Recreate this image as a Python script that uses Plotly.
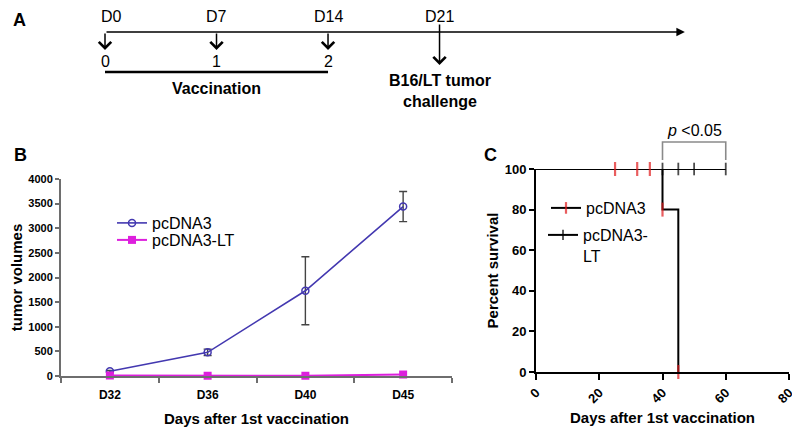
import plotly.graph_objects as go

# ---------------- Panel A : vaccination schedule ----------------
timeline_days = [0, 7, 14, 21]
timeline_labels = ["D0", "D7", "D14", "D21"]
vacc_days = [0, 7, 14]
vacc_numbers = ["0", "1", "2"]
timeline_end_day = 36.4
challenge_day = 21

# ---------------- Panel B : tumor volumes ----------------
b_days = ["D32", "D36", "D40", "D45"]
b_pcdna3 = [95, 480, 1730, 3440]
b_pcdna3_err = [20, 65, 690, 305]
b_lt = [10, 5, 5, 30]
b_yticks = [0, 500, 1000, 1500, 2000, 2500, 3000, 3500, 4000]

# ---------------- Panel C : survival ----------------
c_pc_t = [0, 25, 32, 36, 40, 45]
c_pc_s = [100, 100, 100, 100, 80, 0]
c_pc_censor = [0, 1, 1, 1, 1, 1]
c_lt_t = [0, 40, 45, 50, 60]
c_lt_s = [100, 100, 100, 100, 100]
c_lt_censor = [0, 1, 1, 1, 1]
c_xticks = [0, 20, 40, 60, 80]
c_yticks = [0, 20, 40, 60, 80, 100]
bracket_days = [40, 60]

W, H = 800, 432
OFF = 8  # page body margin in the browser
def fx(px):
    return (px - OFF) / W
def fy(py):
    return 1 - (py - OFF) / H

SANS = "Liberation Sans, Arial, sans-serif"
GRAY = "#6e6e6e"

fig = go.Figure()

# Panel B traces
fig.add_trace(go.Scatter(
    x=b_days, y=b_pcdna3, name="pcDNA3", mode="lines+markers",
    line=dict(color="#4338b0", width=1.6),
    marker=dict(symbol="circle-open", size=7, color="#4338b0", line=dict(width=1.5)),
    error_y=dict(type="data", array=b_pcdna3_err, color="#444444", thickness=1.4, width=4),
    xaxis="x", yaxis="y", legend="legend", cliponaxis=False,
))
fig.add_trace(go.Scatter(
    x=b_days, y=b_lt, name="pcDNA3-LT", mode="lines+markers",
    line=dict(color="#dd1fdd", width=2),
    marker=dict(symbol="square", size=8, color="#dd1fdd"),
    xaxis="x", yaxis="y", legend="legend2", cliponaxis=False,
))

# Panel C traces
fig.add_trace(go.Scatter(
    x=c_lt_t, y=c_lt_s, name="pcDNA3-<br>LT", mode="lines+markers", line_shape="hv",
    line=dict(color="black", width=2),
    marker=dict(symbol="line-ns", size=[9 * c for c in c_lt_censor],
                line=dict(color="black", width=1.8)),
    xaxis="x2", yaxis="y2", legend="legend4", cliponaxis=False,
))
fig.add_trace(go.Scatter(
    x=c_pc_t, y=c_pc_s, name="pcDNA3", mode="lines+markers", line_shape="hv",
    line=dict(color="black", width=2),
    marker=dict(symbol="line-ns", size=[10 * c for c in c_pc_censor],
                line=dict(color="#e0191b", width=2.2)),
    xaxis="x2", yaxis="y2", legend="legend3", cliponaxis=False,
))

# Panel A helper axes (invisible): x in days
px_per_day = 15.93
a_x0 = -(105 - OFF) / px_per_day
a_x1 = (W - (105 - OFF)) / px_per_day

annotations = []
shapes = []

# main timeline with arrowhead
annotations.append(dict(
    x=timeline_end_day, y=fy(32), ax=timeline_days[0], ay=fy(32),
    xref="x3", yref="y3", axref="x3", ayref="y3", text="", showarrow=True,
    arrowhead=2, arrowsize=1.3, arrowwidth=1.3, arrowcolor="black",
))
for d, lab in zip(timeline_days, timeline_labels):
    annotations.append(dict(
        x=d, y=fy(16), xref="x3", yref="y3", text=lab, showarrow=False,
        font=dict(family=SANS, size=16, color="black"),
        xanchor="center", yanchor="middle",
        xshift=6 if d == 0 else 0,
    ))
for d, n in zip(vacc_days, vacc_numbers):
    annotations.append(dict(
        x=d, y=fy(50), ax=d, ay=fy(32), xref="x3", yref="y3", axref="x3", ayref="y3",
        text="", showarrow=True, arrowhead=4, arrowsize=1.6, arrowwidth=1.5, arrowcolor="black",
    ))
    annotations.append(dict(
        x=d, y=fy(61), xref="x3", yref="y3", text=n, showarrow=False,
        xanchor="center", yanchor="middle",
        font=dict(family=SANS, size=16, color="black"),
    ))
annotations.append(dict(
    x=challenge_day, y=fy(65), ax=challenge_day, ay=fy(23), xref="x3", yref="y3",
    axref="x3", ayref="y3", text="", showarrow=True, arrowhead=4, arrowsize=1.6,
    arrowwidth=1.5, arrowcolor="black",
))
shapes.append(dict(type="line", xref="x3", yref="y3", x0=vacc_days[0], x1=vacc_days[-1],
                   y0=fy(72), y1=fy(72), line=dict(color="black", width=2.5)))
annotations.append(dict(
    x=(vacc_days[0] + vacc_days[-1]) / 2, y=fy(88), xref="x3", yref="y3",
    xanchor="center", yanchor="middle",
    text="<b>Vaccination</b>", showarrow=False, font=dict(family=SANS, size=16, color="black"),
))
annotations.append(dict(
    x=challenge_day, y=fy(91), xref="x3", yref="y3",
    xanchor="center", yanchor="middle",
    text="<b>B16/LT tumor</b><br><b>challenge</b>", showarrow=False,
    font=dict(family=SANS, size=16, color="black"),
))

# panel letters
annotations.append(dict(
    x=fx(19), y=fy(OFF), xref="paper", yref="paper", text="<b>A</b>",
    xanchor="center", yanchor="top",
    showarrow=False, font=dict(family=SANS, size=18, color="black"),
))
for letter, px, py in [("B", 20, 155), ("C", 490, 155)]:
    annotations.append(dict(
        x=fx(px), y=fy(py), xref="paper", yref="paper", text=f"<b>{letter}</b>",
        xanchor="center", yanchor="middle",
        showarrow=False, font=dict(family=SANS, size=18, color="black"),
    ))

# significance bracket (panel C)
xr2 = [0, 80]
def dfrac(d):
    return (d - xr2[0]) / (xr2[1] - xr2[0])
bx0, bx1 = dfrac(bracket_days[0]), dfrac(bracket_days[1])
shapes.append(dict(
    type="path", xref="x2 domain", yref="paper",
    path=f"M{bx0},{fy(160)} L{bx0},{fy(142)} L{bx1},{fy(142)} L{bx1},{fy(160)}",
    line=dict(color="#8a8a8a", width=1.6),
))
annotations.append(dict(
    x=sum(bracket_days) / 2, y=fy(130), xref="x2", yref="paper",
    xanchor="center", yanchor="middle",
    text="<i>p</i> <0.05", showarrow=False, font=dict(family=SANS, size=16, color="black"),
))

fig.update_layout(
    width=W, height=H, margin=dict(l=0, r=0, t=0, b=0, pad=0, autoexpand=False),
    paper_bgcolor="white", plot_bgcolor="rgba(0,0,0,0)",
    font=dict(family=SANS, color="black"), showlegend=True,
    annotations=annotations, shapes=shapes,
    xaxis=dict(
        domain=[fx(61), fx(452)], anchor="y", type="category", categoryarray=b_days,
        range=[-0.5, len(b_days) - 0.5],
        tickson="boundaries", ticks="outside", ticklen=5, tickwidth=1.5, tickcolor=GRAY,
        showline=True, linecolor=GRAY, linewidth=2, showgrid=False, zeroline=False,
        ticklabelstandoff=7, automargin=False,
        tickfont=dict(family=SANS, size=12, weight="bold", color="black"),
        title=dict(text="Days after 1st vaccination", standoff=12,
                   font=dict(family=SANS, size=15, weight="bold", color="black")),
    ),
    yaxis=dict(
        domain=[fy(376), fy(179)], anchor="x", range=[0, 4000], tickvals=b_yticks,
        ticks="outside", ticklen=4, tickwidth=1.5, tickcolor=GRAY, automargin=False,
        showline=True, linecolor=GRAY, linewidth=2, showgrid=False, zeroline=False,
        tickfont=dict(family=SANS, size=11, weight="bold", color="black"),
        title=dict(text="tumor volumes", standoff=6,
                   font=dict(family=SANS, size=15, weight="bold", color="black")),
    ),
    xaxis2=dict(
        domain=[fx(536), fx(789)], anchor="y2", range=xr2, tickvals=c_xticks, tickangle=-45,
        ticks="outside", ticklen=6, tickwidth=2, tickcolor="black", automargin=False,
        showline=True, linecolor="black", linewidth=2, showgrid=False, zeroline=False,
        tickfont=dict(family=SANS, size=13, weight="bold", color="black"),
        title=dict(text="Days after 1st vaccination", standoff=7,
                   font=dict(family=SANS, size=15, weight="bold", color="black")),
    ),
    yaxis2=dict(
        domain=[fy(372), fy(169)], anchor="x2", range=[0, 100], tickvals=c_yticks,
        ticks="outside", ticklen=5, tickwidth=2, tickcolor="black", automargin=False,
        showline=True, linecolor="black", linewidth=2, showgrid=False, zeroline=False,
        tickfont=dict(family=SANS, size=13, weight="bold", color="black"),
        title=dict(text="Percent survival", standoff=2,
                   font=dict(family=SANS, size=15, weight="bold", color="black")),
    ),
    xaxis3=dict(domain=[0, 1], anchor="y3", range=[a_x0, a_x1], visible=False, automargin=False),
    yaxis3=dict(domain=[0, 1], anchor="x3", range=[0, 1], visible=False, automargin=False),
    legend=dict(x=fx(112), y=fy(223), xanchor="left", yanchor="middle", itemwidth=30,
                bgcolor="rgba(0,0,0,0)", font=dict(family=SANS, size=16)),
    legend2=dict(x=fx(112), y=fy(240), xanchor="left", yanchor="middle", itemwidth=30,
                 bgcolor="rgba(0,0,0,0)", font=dict(family=SANS, size=16)),
    legend3=dict(x=fx(546), y=fy(208), xanchor="left", yanchor="middle", itemwidth=30,
                 bgcolor="rgba(0,0,0,0)", font=dict(family=SANS, size=16)),
    legend4=dict(x=fx(543), y=fy(218), xanchor="left", yanchor="top", itemwidth=30,
                 valign="top", bgcolor="rgba(0,0,0,0)", font=dict(family=SANS, size=16)),
)

fig.write_html("out.html")
